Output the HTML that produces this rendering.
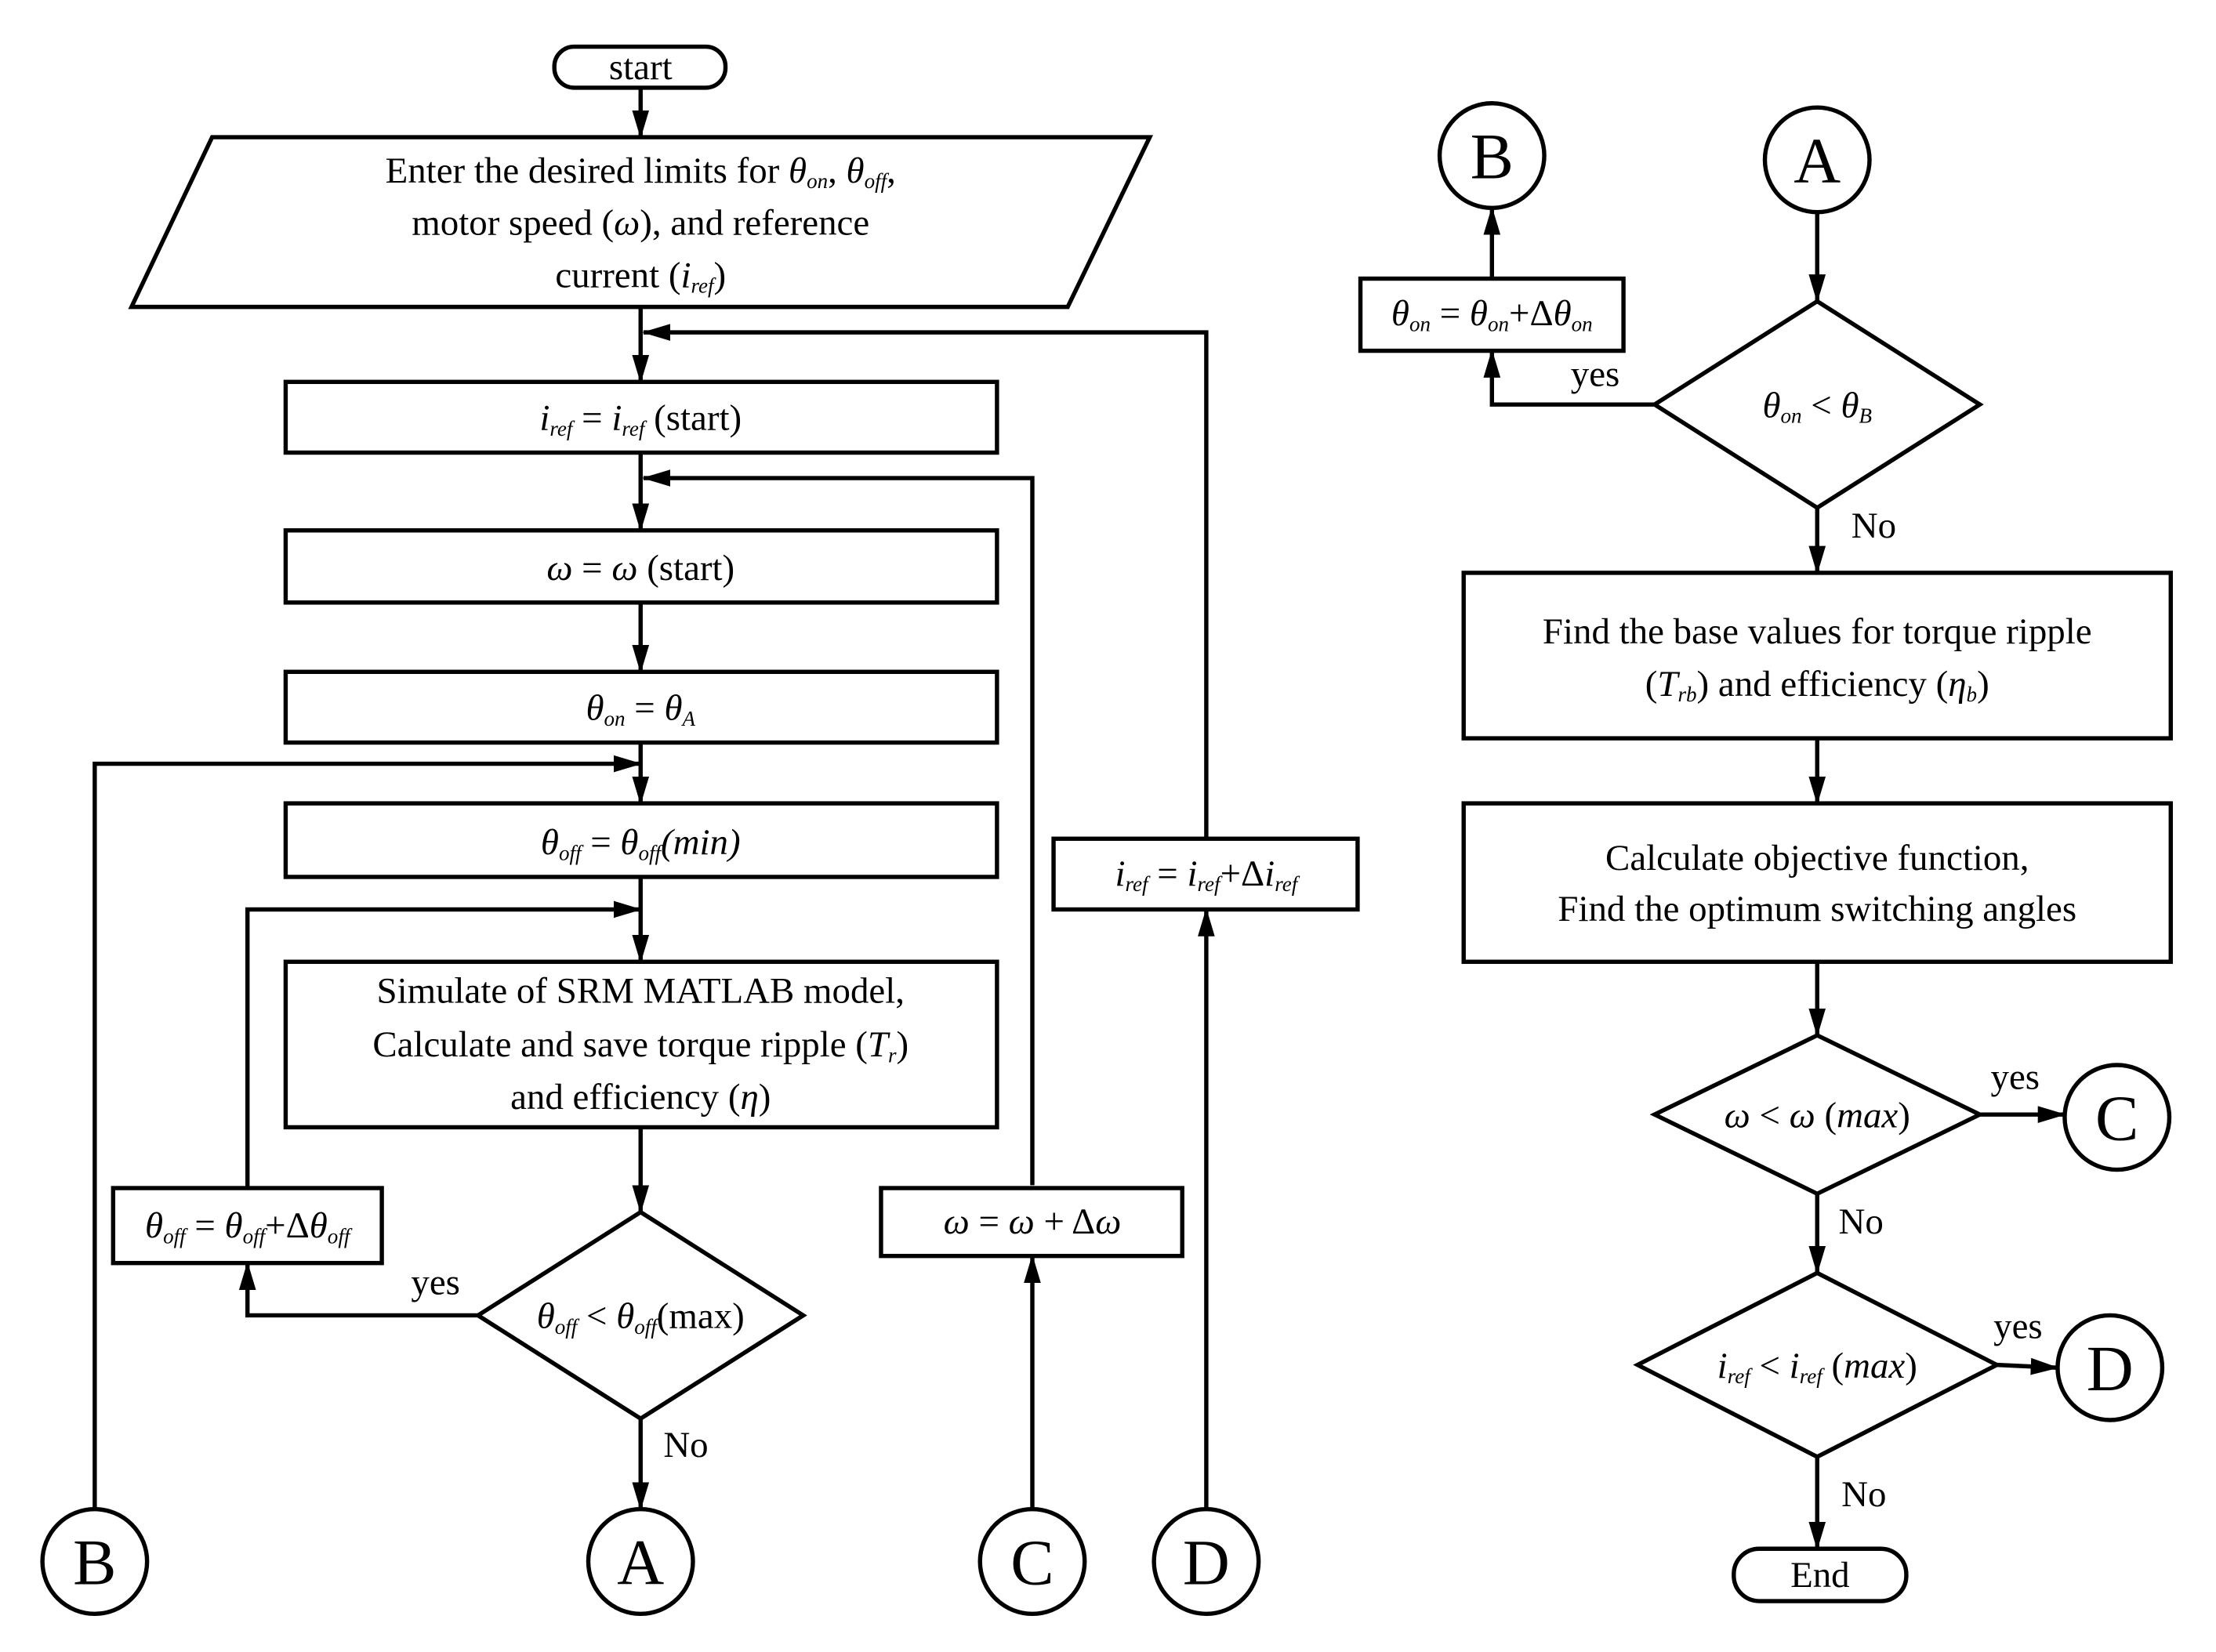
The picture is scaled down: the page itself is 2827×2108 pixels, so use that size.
<!DOCTYPE html>
<html><head><meta charset="utf-8"><style>
html,body{margin:0;padding:0;background:#fff;}
svg{display:block;}
text{font-family:"Liberation Serif",serif;fill:#000;}
</style></head><body>
<svg width="2827" height="2108" viewBox="0 0 1567 1168" preserveAspectRatio="none" xmlns="http://www.w3.org/2000/svg">
<defs>
<marker id="a" viewBox="0 0 20 12" refX="19" refY="6" markerWidth="20" markerHeight="12" markerUnits="userSpaceOnUse" orient="auto">
<path d="M0,0 L20,6 L0,12 z" fill="#000"/>
</marker>
</defs>
<g fill="none" stroke="#000" stroke-width="3">
<rect x="392" y="33" width="121" height="29" rx="14"/>
<line x1="453" y1="62" x2="453" y2="97" marker-end="url(#a)"/>
<polygon points="150,97 813,97 755,217 93,217"/>
<line x1="453" y1="217" x2="453" y2="270" marker-end="url(#a)"/>
<polyline points="853,593 853,235 455,235" marker-end="url(#a)"/>
<rect x="202" y="270" width="503" height="50"/>
<line x1="453" y1="320" x2="453" y2="375" marker-end="url(#a)"/>
<polyline points="730,838 730,338 455,338" marker-end="url(#a)"/>
<rect x="202" y="375" width="503" height="51"/>
<line x1="453" y1="426" x2="453" y2="475" marker-end="url(#a)"/>
<rect x="202" y="475" width="503" height="50"/>
<line x1="453" y1="525" x2="453" y2="568" marker-end="url(#a)"/>
<polyline points="67,1067 67,540 453,540" marker-end="url(#a)"/>
<rect x="202" y="568" width="503" height="52"/>
<line x1="453" y1="620" x2="453" y2="680" marker-end="url(#a)"/>
<polyline points="175,840 175,643 453,643" marker-end="url(#a)"/>
<rect x="202" y="680" width="503" height="117"/>
<line x1="453" y1="797" x2="453" y2="857" marker-end="url(#a)"/>
<polygon points="453,857 568,930 453,1003 338,930"/>
<polyline points="338,930 175,930 175,893" marker-end="url(#a)"/>
<rect x="80" y="840" width="190" height="53"/>
<line x1="453" y1="1003" x2="453" y2="1067" marker-end="url(#a)"/>
<circle cx="67" cy="1104" r="37"/>
<circle cx="453" cy="1104" r="37"/>
<circle cx="730" cy="1104" r="37"/>
<circle cx="853" cy="1104" r="37"/>
<line x1="730" y1="1067" x2="730" y2="888" marker-end="url(#a)"/>
<rect x="623" y="840" width="213" height="48"/>
<line x1="853" y1="1067" x2="853" y2="643" marker-end="url(#a)"/>
<rect x="745" y="593" width="215" height="50"/>
<circle cx="1055" cy="110" r="37"/>
<circle cx="1285" cy="113" r="37"/>
<line x1="1285" y1="150" x2="1285" y2="213" marker-end="url(#a)"/>
<polygon points="1285,213 1400,286 1285,359 1170,286"/>
<polyline points="1170,286 1055,286 1055,248" marker-end="url(#a)"/>
<rect x="962" y="197" width="186" height="51"/>
<line x1="1055" y1="197" x2="1055" y2="147" marker-end="url(#a)"/>
<line x1="1285" y1="359" x2="1285" y2="405" marker-end="url(#a)"/>
<rect x="1035" y="405" width="500" height="117"/>
<line x1="1285" y1="522" x2="1285" y2="568" marker-end="url(#a)"/>
<rect x="1035" y="568" width="500" height="112"/>
<line x1="1285" y1="680" x2="1285" y2="732" marker-end="url(#a)"/>
<polygon points="1285,732 1400,788 1285,844 1170,788"/>
<line x1="1400" y1="788" x2="1460" y2="788" marker-end="url(#a)"/>
<circle cx="1497" cy="790" r="37"/>
<line x1="1285" y1="844" x2="1285" y2="900" marker-end="url(#a)"/>
<polygon points="1285,900 1412,965 1285,1030 1158,965"/>
<line x1="1412" y1="965" x2="1455" y2="967" marker-end="url(#a)"/>
<circle cx="1492" cy="967" r="37"/>
<line x1="1285" y1="1030" x2="1285" y2="1095" marker-end="url(#a)"/>
<rect x="1226" y="1095" width="122" height="37" rx="18"/>
</g>
<g font-size="26" text-anchor="middle">
<text x="453" y="56">start</text>
<text x="453" y="129">Enter the desired limits for <tspan font-style="italic">θ<tspan font-size="15" dy="4">on</tspan></tspan><tspan dy="-4">, </tspan><tspan font-style="italic">θ<tspan font-size="15" dy="4">off</tspan></tspan><tspan dy="-4">,</tspan></text>
<text x="453" y="166">motor speed (<tspan font-style="italic">ω</tspan>), and reference</text>
<text x="453" y="203">current (<tspan font-style="italic">i<tspan font-size="15" dy="4">ref</tspan></tspan><tspan dy="-4">)</tspan></text>
<text x="453" y="304"><tspan font-style="italic">i<tspan font-size="15" dy="4">ref</tspan></tspan><tspan dy="-4"> = </tspan><tspan font-style="italic">i<tspan font-size="15" dy="4">ref</tspan></tspan><tspan dy="-4"> (start)</tspan></text>
<text x="453" y="410"><tspan font-style="italic">ω</tspan> = <tspan font-style="italic">ω</tspan> (start)</text>
<text x="453" y="509"><tspan font-style="italic">θ<tspan font-size="15" dy="4">on</tspan></tspan><tspan dy="-4"> = </tspan><tspan font-style="italic">θ<tspan font-size="15" dy="4">A</tspan></tspan></text>
<text x="453" y="604"><tspan font-style="italic">θ<tspan font-size="15" dy="4">off</tspan></tspan><tspan dy="-4"> = </tspan><tspan font-style="italic">θ<tspan font-size="15" dy="4">off</tspan><tspan dy="-4">(min)</tspan></tspan></text>
<text x="453" y="709">Simulate of SRM MATLAB model,</text>
<text x="453" y="747">Calculate and save torque ripple (<tspan font-style="italic">T<tspan font-size="15" dy="4">r</tspan></tspan><tspan dy="-4">)</tspan></text>
<text x="453" y="784">and efficiency (<tspan font-style="italic">η</tspan>)</text>
<text x="453" y="939"><tspan font-style="italic">θ<tspan font-size="15" dy="4">off</tspan></tspan><tspan dy="-4"> &lt; </tspan><tspan font-style="italic">θ<tspan font-size="15" dy="4">off</tspan></tspan><tspan dy="-4">(max)</tspan></text>
<text x="175" y="875"><tspan font-style="italic">θ<tspan font-size="15" dy="4">off</tspan></tspan><tspan dy="-4"> = </tspan><tspan font-style="italic">θ<tspan font-size="15" dy="4">off</tspan></tspan><tspan dy="-4">+Δ</tspan><tspan font-style="italic">θ<tspan font-size="15" dy="4">off</tspan></tspan></text>
<text x="308" y="915">yes</text>
<text x="485" y="1030">No</text>
<text x="730" y="872"><tspan font-style="italic">ω</tspan> = <tspan font-style="italic">ω</tspan> + Δ<tspan font-style="italic">ω</tspan></text>
<text x="853" y="626"><tspan font-style="italic">i<tspan font-size="15" dy="4">ref</tspan></tspan><tspan dy="-4"> = </tspan><tspan font-style="italic">i<tspan font-size="15" dy="4">ref</tspan></tspan><tspan dy="-4">+Δ</tspan><tspan font-style="italic">i<tspan font-size="15" dy="4">ref</tspan></tspan></text>
<g font-size="46">
<text x="67" y="1120">B</text>
<text x="453" y="1120">A</text>
<text x="730" y="1120">C</text>
<text x="853" y="1120">D</text>
<text x="1055" y="126">B</text>
<text x="1285" y="129">A</text>
<text x="1497" y="806">C</text>
<text x="1492" y="983">D</text>
</g>
<text x="1055" y="230"><tspan font-style="italic">θ<tspan font-size="15" dy="4">on</tspan></tspan><tspan dy="-4"> = </tspan><tspan font-style="italic">θ<tspan font-size="15" dy="4">on</tspan></tspan><tspan dy="-4">+Δ</tspan><tspan font-style="italic">θ<tspan font-size="15" dy="4">on</tspan></tspan></text>
<text x="1128" y="273">yes</text>
<text x="1285" y="295"><tspan font-style="italic">θ<tspan font-size="15" dy="4">on</tspan></tspan><tspan dy="-4"> &lt; </tspan><tspan font-style="italic">θ<tspan font-size="15" dy="4">B</tspan></tspan></text>
<text x="1325" y="380">No</text>
<text x="1285" y="455">Find the base values for torque ripple</text>
<text x="1285" y="492">(<tspan font-style="italic">T<tspan font-size="15" dy="4">rb</tspan></tspan><tspan dy="-4">)  and efficiency (</tspan><tspan font-style="italic">η<tspan font-size="15" dy="4">b</tspan></tspan><tspan dy="-4">)</tspan></text>
<text x="1285" y="615">Calculate objective function,</text>
<text x="1285" y="651">Find the optimum switching angles</text>
<text x="1285" y="797"><tspan font-style="italic">ω</tspan> &lt; <tspan font-style="italic">ω</tspan> (<tspan font-style="italic">max</tspan>)</text>
<text x="1425" y="770">yes</text>
<text x="1316" y="872">No</text>
<text x="1285" y="974"><tspan font-style="italic">i<tspan font-size="15" dy="4">ref</tspan></tspan><tspan dy="-4"> &lt; </tspan><tspan font-style="italic">i<tspan font-size="15" dy="4">ref</tspan></tspan><tspan dy="-4"> (</tspan><tspan font-style="italic">max</tspan>)</text>
<text x="1427" y="946">yes</text>
<text x="1318" y="1065">No</text>
<text x="1287" y="1122">End</text>
</g>
</svg>
</body></html>
